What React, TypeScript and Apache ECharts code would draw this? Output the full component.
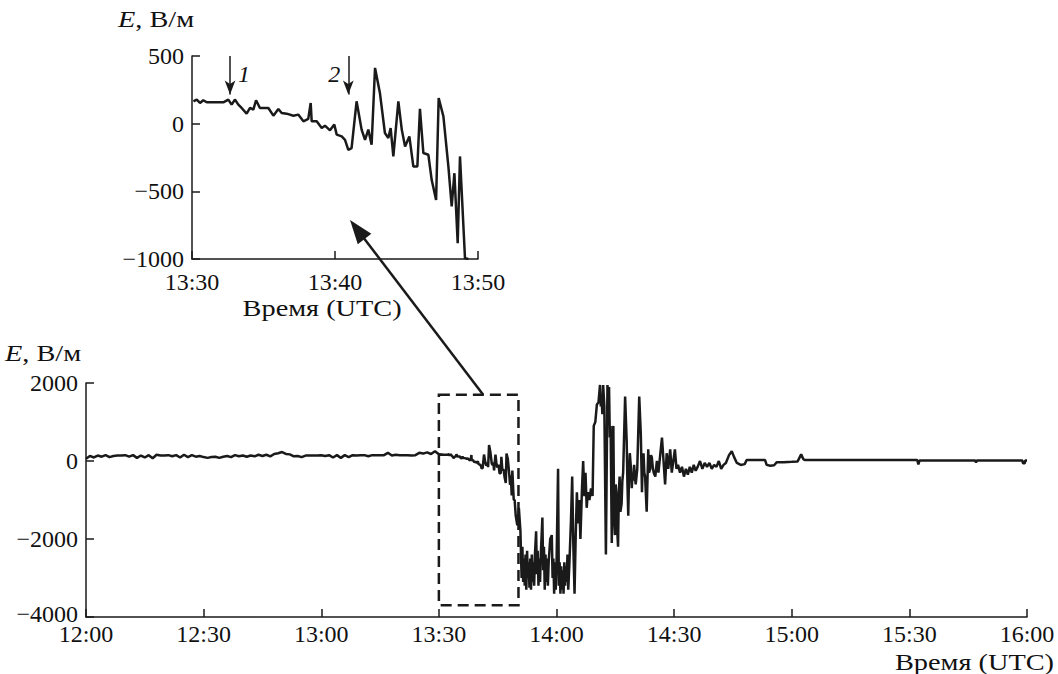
import React, { useEffect, useRef } from "react";
import * as echarts from "echarts";

// Quiet period 12:00–13:29, one sample per minute (values in V/m)
const quietValues = [
  60, 130, 90, 140, 110, 150, 100, 130, 140, 140,
  150, 110, 150, 80, 140, 90, 150, 70, 160, 140,
  140, 150, 120, 150, 90, 160, 100, 150, 110, 130,
  100, 80, 100, 110, 80, 110, 130, 100, 150, 120,
  140, 110, 140, 120, 160, 130, 160, 120, 180, 200,
  230, 180, 170, 120, 130, 100, 140, 140, 140, 140,
  150, 130, 150, 90, 150, 80, 150, 100, 150, 140,
  150, 150, 120, 150, 150, 150, 150, 210, 140, 160,
  150, 150, 150, 140, 150, 210, 190, 220, 180, 250,
];

// Inset interval 13:30–13:49 (minutes after 12:00)
const insetTimes = [
  90.1, 90.33, 90.56, 90.79, 91.03, 92.19, 92.54, 92.77, 93.0, 93.24,
  93.47, 93.82, 94.06, 94.29, 94.48, 94.75, 95.34, 95.69, 96.04, 96.27,
  96.62, 97.09, 97.43, 97.79, 98.13, 98.3, 98.37, 98.72, 99.07, 99.3,
  99.65, 99.95, 100.12, 100.47, 100.7, 100.93, 101.16, 101.51, 101.86, 102.1,
  102.33, 102.56, 102.8, 103.14, 103.49, 103.73, 103.89, 104.08, 104.43, 104.67,
  104.9, 105.2, 105.48, 105.76, 105.94, 106.18, 106.53, 106.76, 107.07, 107.25,
  107.58, 107.93, 108.16, 108.35, 108.58, 108.74, 109.09, 109.33,
];
const insetValues = [
  165, 178, 153, 173, 158, 158, 178, 141, 178, 141,
  116, 74, 116, 104, 173, 116, 116, 59, 109, 79,
  74, 59, 67, 17, 35, 153, 17, 17, -32, -15,
  -49, -7, -81, -94, -119, -193, -180, 165, -44, -119,
  -44, -156, 412, 227, -69, -106, -32, -242, 165, -44,
  -168, -94, -317, -317, 109, -217, -230, -415, -563, 190,
  54, -317, -612, -366, -884, -242, -995, -1000,
];

// Storm and recovery, 13:49–16:00: [minutes after 12:00, V/m]
const stormSamples: [number, number][] = [
  [109.6, -1400], [110.0, -1650], [110.4, -1200], [110.8, -1800], [111.1, -3000],
  [111.3, -2200], [111.5, -3100], [111.7, -2500], [111.9, -3200], [112.1, -2400],
  [112.3, -3300], [112.5, -2300], [112.7, -3000], [112.9, -2600], [113.1, -3250],
  [113.3, -2500], [113.5, -3300], [113.7, -2400], [113.9, -3100], [114.1, -2600],
  [114.3, -3200], [114.5, -2400], [114.8, -1800], [115.0, -2900], [115.2, -2300],
  [115.4, -3200], [115.6, -2500], [115.8, -3100], [116.0, -2400], [116.4, -1450],
  [116.6, -2800], [116.8, -2200], [117.0, -3300], [117.2, -2400], [117.4, -3100],
  [117.6, -2500], [117.8, -3200], [118.0, -2600], [118.4, -2000], [118.8, -1900],
  [119.0, -3000], [119.2, -2500], [119.4, -3400], [119.6, -2600], [119.8, -3300],
  [120.0, -2700], [120.4, -200], [120.6, -3200], [120.8, -2600], [121.0, -3400],
  [121.2, -2700], [121.4, -3300], [121.6, -2800], [121.8, -3400], [122.0, -2600],
  [122.2, -3200], [122.4, -2700], [122.6, -3100], [122.8, -2400], [123.0, -3300],
  [123.3, -2600], [123.7, -1500], [124.0, -400], [124.3, -2200], [124.6, -3400],
  [124.9, -1900], [125.2, -800], [125.5, -1600], [125.8, -1000], [126.1, -2000],
  [126.5, -700], [126.8, 0], [127.1, -900], [127.4, -300], [127.7, -1200],
  [128.0, -800], [128.4, -1000], [128.8, -700], [129.2, -900], [129.5, 900],
  [129.9, 1000], [130.3, 1450], [130.7, 1500], [131.1, 1950], [131.3, 1400],
  [131.5, 1600], [131.7, 1200], [131.9, 1950], [132.2, 1400], [132.6, -2400],
  [133.0, 1950], [133.2, 1600], [133.4, 1900], [133.6, 600], [133.8, 900],
  [134.1, -2100], [134.3, 300], [134.5, 900], [134.7, -1500], [134.9, -1900],
  [135.1, -600], [135.3, -900], [135.5, -1800], [135.7, -2200], [135.9, -800],
  [136.1, -400], [136.3, -1300], [136.6, -1100], [136.8, -500], [137.0, -300],
  [137.5, 1650], [137.9, 500], [138.1, -600], [138.3, -1400], [138.5, -400],
  [138.7, 200], [139.0, -200], [139.2, -700], [139.4, -300], [139.6, -500],
  [139.8, -100], [140.0, -400], [140.2, -600], [140.6, -200], [141.1, 1650],
  [141.5, 700], [141.8, -800], [142.0, 0], [142.2, 200], [142.4, -300],
  [142.6, -400], [143.0, -1300], [143.4, 300], [143.6, -300], [143.9, -200],
  [144.1, 150], [144.3, 100], [144.6, -200], [144.8, -300], [145.2, -400],
  [145.6, 0], [146.0, -300], [146.5, 200], [146.9, 600], [147.3, 0],
  [147.7, -600], [148.1, 200], [148.5, -200], [149.0, 300], [149.4, -300],
  [149.8, 0], [150.2, 300], [150.6, -200], [151.0, -100], [151.5, -300],
  [152.0, -150], [152.5, -400], [153.0, -200], [153.5, -350], [154.0, -150],
  [154.5, -300], [155.0, -100], [155.5, -250], [156.0, -150], [156.6, 0],
  [157.2, -200], [157.8, -50], [158.4, -150], [159.0, -50], [159.6, -200],
  [160.2, -100], [160.8, -150], [161.4, 0], [162.0, -200], [162.6, -100],
  [163.2, -50], [164.0, 150], [164.7, 250], [165.3, 100], [166.0, -50],
  [167.0, -100], [168.0, -80], [168.5, 25], [173.2, 25], [173.6, -100],
  [174.5, -120], [175.5, -110], [176.2, -30], [178.0, -30], [180.0, -20],
  [181.5, -10], [182.4, 170], [183.0, 40], [183.4, 25], [212.0, 25],
  [212.3, -90], [212.6, 15], [226.8, 15], [227.0, -40], [227.2, 15],
  [238.8, 15], [239.0, -60], [239.4, -60], [239.6, 15], [240.0, 15],
];

// Event markers in the inset (minutes after 12:00)
const markerTimes = [92.66, 100.93];
const markerLabels = ["1", "2"];

// Zoomed box on the main chart
const boxRange = { t0: 90, t1: 110.3, vTop: 1700, vBottom: -3700 };

const FONT = "Liberation Serif";
const INK = "#1a1a1a";
const FS = 24;
const WIDE = 1.18; // horizontal stretch of the Cyrillic captions

const fmtTime = (v: number) => {
  const tot = 720 + Math.round(v);
  const h = Math.floor(tot / 60);
  const m = tot % 60;
  return `${h}:${m < 10 ? "0" + m : m}`;
};
const fmtNum = (v: number) => String(v).replace("-", "\u2212");

export default function App() {
  const ref = useRef<HTMLDivElement>(null);

  useEffect(() => {
    if (!ref.current) return;
    const chart = echarts.init(ref.current, undefined, { renderer: "svg" });

    const quietData = quietValues.map((v, i) => [i, v]);
    const insetData = insetTimes.map((t, i) => [t, insetValues[i]]);
    const mainData = [...quietData, ...insetData, ...stormSamples];

    const axisCommon = {
      axisLine: { show: true, onZero: false, lineStyle: { color: INK, width: 1.5 } },
      axisTick: { show: true, inside: true, length: 8, lineStyle: { color: INK, width: 1.5 } },
      splitLine: { show: false },
    };
    const labelStyle = { color: "#111", fontFamily: FONT, fontSize: FS };

    chart.setOption({
      animation: false,
      backgroundColor: "#fff",
      grid: [
        { left: 86, top: 383, width: 941, height: 234, containLabel: false },
        { left: 192, top: 56, width: 286, height: 203, containLabel: false },
      ],
      xAxis: [
        {
          type: "value", gridIndex: 0, min: 0, max: 240, interval: 30,
          ...axisCommon,
          axisLabel: { ...labelStyle, margin: 5, formatter: fmtTime },
        },
        {
          type: "value", gridIndex: 1, min: 90, max: 110, interval: 10,
          ...axisCommon,
          axisLabel: { ...labelStyle, margin: 11, formatter: fmtTime },
        },
      ],
      yAxis: [
        {
          type: "value", gridIndex: 0, min: -4000, max: 2000, interval: 2000,
          ...axisCommon,
          axisLabel: {
            ...labelStyle, margin: 8,
            formatter: (v: number) => (v === -4000 ? "{low|" + fmtNum(v) + "}" : fmtNum(v)),
            rich: { low: { fontFamily: FONT, fontSize: FS, color: "#111", padding: [0, 0, 6, 0] } },
          },
        },
        {
          type: "value", gridIndex: 1, min: -1000, max: 500, interval: 500,
          ...axisCommon,
          axisLabel: { ...labelStyle, margin: 8, formatter: fmtNum },
        },
      ],
      series: [
        {
          type: "line", xAxisIndex: 0, yAxisIndex: 0, data: mainData,
          showSymbol: false, symbol: "none",
          lineStyle: { color: INK, width: 2.5 },
          markArea: {
            silent: true,
            itemStyle: {
              color: "rgba(0,0,0,0)", borderColor: INK, borderWidth: 2.5,
              borderType: [11, 6],
            },
            data: [[
              { xAxis: boxRange.t0, yAxis: boxRange.vTop },
              { xAxis: boxRange.t1, yAxis: boxRange.vBottom },
            ]],
          },
        },
        {
          type: "line", xAxisIndex: 1, yAxisIndex: 1, data: insetData,
          showSymbol: false, symbol: "none",
          lineStyle: { color: INK, width: 2.5 },
          markLine: {
            silent: true,
            symbol: ["none", "arrow"],
            symbolSize: [8, 14],
            label: { show: false },
            lineStyle: { color: INK, width: 1.5, type: "solid" },
            data: markerTimes.map((t) => [
              { coord: [t, 500] },
              { coord: [t, 215] },
            ]),
          },
        },
      ],
    });

    // Annotations placed from the axes' own scales
    const a = chart.convertToPixel({ gridIndex: 0 }, [101.3, boxRange.vTop]) as number[];
    const b = chart.convertToPixel({ gridIndex: 1 }, [101.05, -711]) as number[];
    const dx = b[0] - a[0];
    const dy = b[1] - a[1];
    const len = Math.hypot(dx, dy);
    const ux = dx / len, uy = dy / len;
    const L = 24, W = 17;
    const base = [b[0] - ux * L, b[1] - uy * L];
    const nx = -uy, ny = ux;

    const m1 = chart.convertToPixel({ gridIndex: 1 }, [markerTimes[0], 370]) as number[];
    const m2 = chart.convertToPixel({ gridIndex: 1 }, [markerTimes[1], 370]) as number[];
    const insetCap = chart.convertToPixel({ gridIndex: 1 }, [99.1, -1000]) as number[];

    const titleStyle = {
      text: "{i|E}{n|, В/м}",
      fill: "#111",
      fontFamily: FONT,
      fontSize: FS,
      rich: {
        i: { fontStyle: "italic", fontFamily: FONT, fontSize: FS, fill: "#111" },
        n: { fontFamily: FONT, fontSize: FS, fill: "#111" },
      },
    };
    const capStyle = { text: "Время (UTC)", fontFamily: FONT, fontSize: FS, fill: "#111", verticalAlign: "middle" };

    chart.setOption({
      graphic: [
        { type: "line", silent: true, shape: { x1: a[0], y1: a[1], x2: base[0] + ux * 2, y2: base[1] + uy * 2 }, style: { stroke: INK, lineWidth: 2.5 } },
        {
          type: "polygon", silent: true,
          shape: { points: [[b[0], b[1]], [base[0] + nx * W / 2, base[1] + ny * W / 2], [base[0] - nx * W / 2, base[1] - ny * W / 2]] },
          style: { fill: INK },
        },
        { type: "text", silent: true, x: m1[0] + 8, y: m1[1], style: { text: markerLabels[0], fontFamily: FONT, fontSize: FS, fontStyle: "italic", fill: "#111", verticalAlign: "middle" } },
        { type: "text", silent: true, x: m2[0] - 8, y: m2[1], style: { text: markerLabels[1], fontFamily: FONT, fontSize: FS, fontStyle: "italic", fill: "#111", align: "right", verticalAlign: "middle" } },
        { type: "text", silent: true, x: 118, y: 7, scaleX: WIDE, style: { ...titleStyle } },
        { type: "text", silent: true, x: 5, y: 341, scaleX: WIDE, style: { ...titleStyle } },
        { type: "text", silent: true, x: insetCap[0], y: 308, scaleX: WIDE, style: { ...capStyle, align: "center" } },
        { type: "text", silent: true, x: 1054, y: 662, scaleX: WIDE, style: { ...capStyle, align: "right" } },
      ],
    });

    return () => chart.dispose();
  }, []);

  return (
    <div
      ref={ref}
      style={{ position: "fixed", left: 0, top: 0, width: 1058, height: 674, background: "#fff" }}
    />
  );
}
